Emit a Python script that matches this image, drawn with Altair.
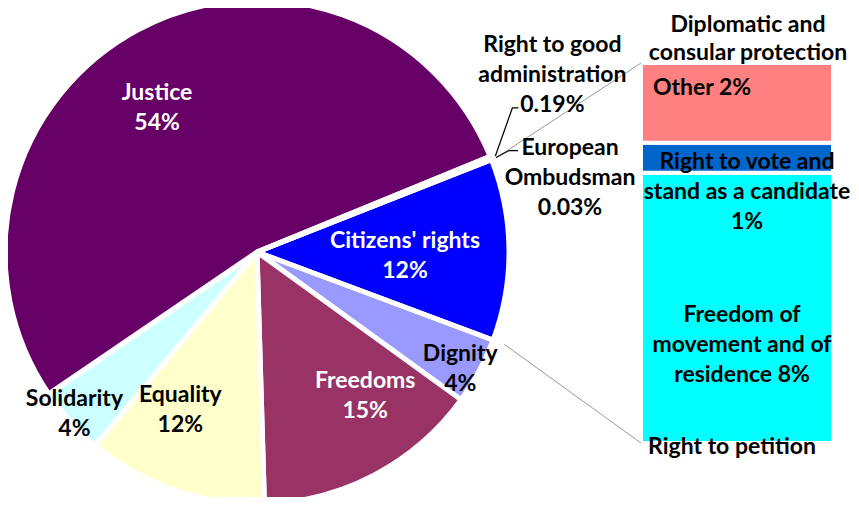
import math
import altair as alt
import pandas as pd

# ---------------- data ----------------
pie_cats = ["Citizens' rights", "Dignity", "Freedoms", "Equality", "Solidarity",
            "Justice", "Right to good administration", "European Ombudsman"]
pie_vals = [11.7, 4.3, 14.6, 11.6, 4.4, 53.5, 0.19, 0.03]
pie_labels = ["Citizens' rights\n12%", "Dignity\n4%", "Freedoms\n15%", "Equality\n12%",
              "Solidarity\n4%", "Justice\n54%", "Right to good\nadministration\n0.19%",
              "European\nOmbudsman\n0.03%"]

bar_cats = ["Right to petition", "Freedom of movement and of residence",
            "Right to vote and stand as a candidate", "Other",
            "Diplomatic and consular protection"]
bar_vals = [0.0, 8.3, 0.92, 2.45, 0.0]
bar_labels = ["Right to petition", "Freedom of\nmovement and of\nresidence 8%",
              "Right to vote and\nstand as a candidate\n1%", "Other 2%",
              "Diplomatic and\nconsular protection"]

colors = {
    "Citizens' rights": "#0000FF", "Dignity": "#9999FF", "Freedoms": "#993366",
    "Equality": "#FFFFCC", "Solidarity": "#CCFFFF", "Justice": "#660066",
    "Right to good administration": "#FFCC99", "European Ombudsman": "#CCFFCC",
    "Right to petition": "#00FFFF", "Freedom of movement and of residence": "#00FFFF",
    "Right to vote and stand as a candidate": "#0066CC", "Other": "#FF8080",
    "Diplomatic and consular protection": "#FF8080",
}

# ---------------- layout / style ----------------
OFF = 8                      # page margin
W, H = 859 - 2 * OFF, 505 - 2 * OFF
CX, CY = 257 - OFF, 252 - OFF  # pie centre (chart coords)
R = 252
START_DEG = 68.5
FONT = "Lato"
FS = 23
LH = 30
BAR_X0, BAR_X1 = 641 - OFF, 833 - OFF
BAR_TOP, BAR_BOTTOM = 63 - OFF, 443 - OFF

pie_df = pd.DataFrame({"category": pie_cats, "value": pie_vals, "label": pie_labels,
                       "order": list(range(len(pie_cats)))})
bar_df = pd.DataFrame({"category": bar_cats, "value": bar_vals, "label": bar_labels,
                       "order": list(range(len(bar_cats)))})

PIE_TOTAL = float(sum(pie_vals))
BAR_TOTAL = float(sum(bar_vals))
start_rad = math.radians(START_DEG)
theta_scale = alt.Scale(domain=[0, PIE_TOTAL], range=[start_rad, start_rad + 2 * math.pi])
color_scale = alt.Scale(domain=list(colors.keys()), range=list(colors.values()))
y_scale = alt.Scale(domain=[0, BAR_TOTAL], range=[BAR_BOTTOM, BAR_TOP])


def block_dy(label, dy, lh=LH):
    """shift so that a multi-line block is centred on its anchor"""
    n = label.count("\n") + 1
    return dy - (n - 1) * lh / 2


# ---------------- pie ----------------
arcs = alt.Chart(pie_df).mark_arc(outerRadius=R, stroke="white", strokeWidth=5).encode(
    theta=alt.Theta("value:Q", stack=True, scale=theta_scale),
    color=alt.Color("category:N", scale=color_scale, legend=None),
    order=alt.Order("order:Q"),
    x=alt.value(CX), y=alt.value(CY),
)

pie_base = alt.Chart(pie_df).transform_window(
    cum="sum(value)", sort=[alt.SortField("order")], frame=[None, 0]
).transform_calculate(mid="datum.cum - datum.value / 2")

# label style: radius, dx, dy, colour
pie_label_style = {
    "Justice": (175, -17, 10, "white"),
    "Citizens' rights": (148, 0, 5, "white"),
    "Dignity": (234, -3, 6, "black"),
    "Freedoms": (180, 24, -15, "white"),
    "Equality": (176, -19, -8, "black"),
    "Solidarity": (245, -1, -2, "black"),
    "Right to good administration": (257, 57, -81, "black"),
    "European Ombudsman": (257, 74, 20, "black"),
}
pie_label_of = dict(zip(pie_cats, pie_labels))

pie_texts = []
for cat, (rad, dx, dy, col) in pie_label_style.items():
    pie_texts.append(
        pie_base.transform_filter(alt.datum.category == cat).mark_text(
            radius=rad, dx=dx, dy=block_dy(pie_label_of[cat], dy), font=FONT,
            fontSize=FS, fontWeight="bold", lineBreak="\n", lineHeight=LH, color=col,
            align="center", baseline="middle",
        ).encode(
            theta=alt.Theta("mid:Q", scale=theta_scale),
            text="label:N",
            x=alt.value(CX), y=alt.value(CY),
        )
    )

# ---------------- bar ----------------
bar_base = alt.Chart(bar_df).transform_window(
    cum="sum(value)", sort=[alt.SortField("order")], frame=[None, 0]
).transform_calculate(lo="datum.cum - datum.value", mid="datum.cum - datum.value / 2")

bars = bar_base.transform_filter(alt.datum.value > 0).mark_rect(
    stroke="white", strokeWidth=4
).encode(
    x=alt.value(BAR_X0), x2=alt.value(BAR_X1),
    y=alt.Y("lo:Q", scale=y_scale, axis=None), y2="cum:Q",
    color=alt.Color("category:N", scale=color_scale, legend=None),
)

# x centre, dy, line height
bar_label_style = {
    "Diplomatic and consular protection": (748 - OFF, -24, 28),
    "Other": (702 - OFF, -15, LH),
    "Right to vote and stand as a candidate": (747 - OFF, 34, LH),
    "Freedom of movement and of residence": (742 - OFF, 37, LH),
    "Right to petition": (732 - OFF, 4, LH),
}
bar_label_of = dict(zip(bar_cats, bar_labels))
bar_texts = []
for cat, (xx, dy, lh) in bar_label_style.items():
    bar_texts.append(
        bar_base.transform_filter(alt.datum.category == cat).mark_text(
            dy=block_dy(bar_label_of[cat], dy, lh), font=FONT, fontSize=FS,
            fontWeight="bold", lineBreak="\n", lineHeight=lh, color="black",
            align="center", baseline="middle",
        ).encode(
            x=alt.value(xx),
            y=alt.Y("mid:Q", scale=y_scale, axis=None),
            text="label:N",
        )
    )

# ---------------- leader / connector lines ----------------
def polar(deg, r):
    a = math.radians(deg)
    return CX + r * math.sin(a), CY - r * math.cos(a)

cum = 0.0
ang = {}
for c, v in zip(pie_cats, pie_vals):
    a0 = START_DEG + 360 * cum / PIE_TOTAL
    cum += v
    a1 = START_DEG + 360 * cum / PIE_TOTAL
    ang[c] = (a0, a1, (a0 + a1) / 2)

rows = []
sx, sy = polar(ang["Right to good administration"][2], 257)
for i, (px, py) in enumerate([(sx, sy), (sx + 17, sy - 48), (sx + 23, sy - 48)]):
    rows.append({"line": "admin", "kind": "black", "idx": i, "x": px, "y": py})
sx, sy = polar(ang["European Ombudsman"][2], 257)
for i, (px, py) in enumerate([(sx, sy), (sx + 13, sy - 7), (sx + 22, sy - 7)]):
    rows.append({"line": "ombud", "kind": "black", "idx": i, "x": px, "y": py})
sx, sy = polar(ang["Citizens' rights"][0], 257)
rows.append({"line": "top", "kind": "gray", "idx": 0, "x": sx, "y": sy})
rows.append({"line": "top", "kind": "gray", "idx": 1, "x": BAR_X0, "y": BAR_TOP})
sx, sy = polar(ang["Citizens' rights"][1], 264)
rows.append({"line": "bottom", "kind": "gray", "idx": 0, "x": sx, "y": sy})
rows.append({"line": "bottom", "kind": "gray", "idx": 1, "x": BAR_X0, "y": BAR_BOTTOM})
lines_df = pd.DataFrame(rows)


def line_layer(kind, col, w):
    return alt.Chart(lines_df).transform_filter(alt.datum.kind == kind).mark_line(
        color=col, strokeWidth=w
    ).encode(
        x=alt.X("x:Q", scale=None, axis=None),
        y=alt.Y("y:Q", scale=None, axis=None),
        detail="line:N",
        order="idx:Q",
    )


lines = [line_layer("gray", "#8c8c8c", 0.9), line_layer("black", "black", 1.2)]

chart = alt.layer(arcs, bars, *lines, *pie_texts, *bar_texts).resolve_scale(
    y="independent", x="independent", theta="independent"
).properties(
    width=W, height=H, padding=0, autosize=alt.AutoSizeParams(type="none"),
    background="white",
).configure_view(stroke=None)

chart.save("out.html", embed_options={"renderer": "svg", "actions": False})
